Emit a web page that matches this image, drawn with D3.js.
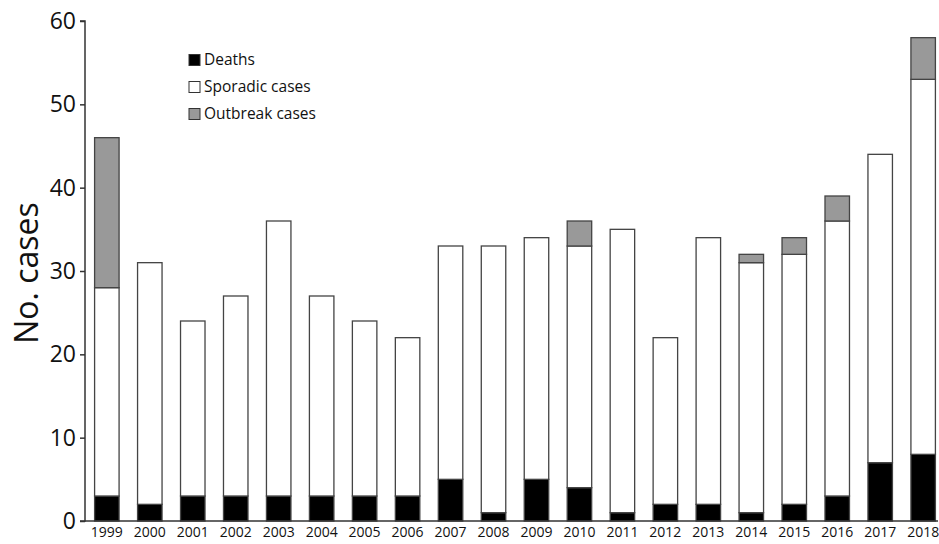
<!DOCTYPE html>
<html><head><meta charset="utf-8">
<script src="https://cdn.jsdelivr.net/npm/d3@7"></script>
<style>body{margin:0;background:#fff}svg{display:block}</style>
</head><body><svg id="c" width="939" height="544"></svg>
<script>
const years = ["1999","2000","2001","2002","2003","2004","2005","2006","2007","2008","2009","2010","2011","2012","2013","2014","2015","2016","2017","2018"];
const deaths =   [3,2,3,3,3,3,3,3,5,1,5,4,1,2,2,1,2,3,7,8];
const sporadic = [28,31,24,27,36,27,24,22,33,33,34,33,35,22,34,31,32,36,44,53];
const outbreak = [18,0,0,0,0,0,0,0,0,0,0,3,0,0,0,1,2,3,0,5];
const yTicks = [0,10,20,30,40,50,60];
const legendItems = ["Deaths","Sporadic cases","Outbreak cases"];
const fills = ["#000000","#ffffff","#999999"];

const svg = d3.select("#c");
const font = "'Open Sans', sans-serif";
const x = d3.scaleBand().domain(years).range([86, 944]).paddingInner(0.43).paddingOuter(0.2);
const y = d3.scaleLinear().domain([0, 60]).range([521, 21]);

const segs = [];
years.forEach((yr, i) => {
  segs.push({yr, y0: 0, y1: deaths[i], k: 0});
  segs.push({yr, y0: deaths[i], y1: sporadic[i], k: 1});
  if (outbreak[i] > 0) segs.push({yr, y0: sporadic[i], y1: sporadic[i] + outbreak[i], k: 2});
});
svg.append("g").selectAll("rect").data(segs).join("rect")
  .attr("x", d => x(d.yr))
  .attr("width", x.bandwidth())
  .attr("y", d => y(d.y1))
  .attr("height", d => y(d.y0) - y(d.y1))
  .attr("fill", d => fills[d.k])
  .attr("stroke", "#444")
  .attr("stroke-width", 1.3);

const ya = svg.append("g").attr("transform", "translate(85,0)")
  .call(d3.axisLeft(y).tickValues(yTicks).tickSize(5).tickPadding(4));
ya.select(".domain").attr("stroke", "#333").attr("stroke-width", 1.5).attr("d", "M-5,21H0V521H-5");
ya.selectAll(".tick line").attr("stroke", "#333").attr("stroke-width", 1.5);
ya.selectAll(".tick text").attr("font-family", font).attr("font-size", 23).attr("fill", "#111");

const xa = svg.append("g").attr("transform", "translate(0,521)")
  .call(d3.axisBottom(x).tickSize(0).tickPadding(6));
xa.select(".domain").attr("stroke", "#333").attr("stroke-width", 1.5).attr("d", "M85,0H938");
xa.selectAll(".tick text").attr("font-family", font).attr("font-size", 14).attr("fill", "#111");

svg.append("text").attr("transform", "translate(38,273) rotate(-90)")
  .attr("text-anchor", "middle").attr("font-family", font).attr("font-size", 32).attr("fill", "#111")
  .text("No. cases");

const lg = svg.append("g").attr("transform", "translate(189,0)");
legendItems.forEach((t, i) => {
  const cy = 60 + i * 27;
  lg.append("rect").attr("x", 0).attr("y", cy - 5.5).attr("width", 11).attr("height", 11)
    .attr("fill", fills[i]).attr("stroke", "#333").attr("stroke-width", 1);
  lg.append("text").attr("x", 15).attr("y", cy).attr("dy", "0.35em")
    .attr("font-family", font).attr("font-size", 15.5).attr("fill", "#111").text(t);
});
</script></body></html>
